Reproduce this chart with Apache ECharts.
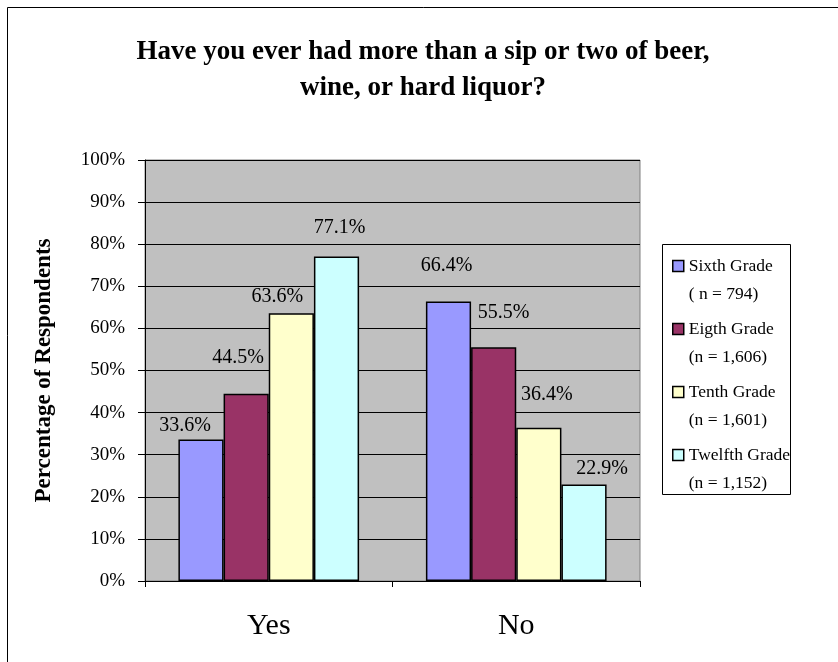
<!DOCTYPE html>
<html>
<head>
<meta charset="utf-8">
<script src="https://cdn.jsdelivr.net/npm/echarts@6/dist/echarts.min.js"></script>
<style>
html,body{margin:0;padding:0;background:#fff;}
#chart{width:838px;height:662px;}
</style>
</head>
<body>
<div id="chart"></div>
<script>
const categories = ['Yes', 'No'];
const seriesNames = ['Sixth Grade\n( n = 794)', 'Eigth Grade\n(n = 1,606)', 'Tenth Grade\n(n = 1,601)', 'Twelfth Grade\n(n = 1,152)'];
const sixthGrade = [33.6, 66.4];
const eighthGrade = [44.5, 55.5];
const tenthGrade = [63.6, 36.4];
const twelfthGrade = [77.1, 22.9];
const yTicks = [0, 10, 20, 30, 40, 50, 60, 70, 80, 90, 100];

const seriesValues = [sixthGrade, eighthGrade, tenthGrade, twelfthGrade];
const colors = ['#9999FF', '#993366', '#FFFFCC', '#CCFFFF'];
// manual label nudges (as placed in the original chart)
const labelNudges = [
  [[-16, -4], [-2, -26]],
  [[-8, -26], [10, -25]],
  [[-14, -6], [8, -23]],
  [[3, -19], [18, -6]]
];
const FONT = '"Liberation Serif", "Times New Roman", serif';

const chart = echarts.init(document.getElementById('chart'));
const series = seriesValues.map((vals, si) => ({
  name: seriesNames[si],
  type: 'bar',
  barGap: 0,
  barCategoryGap: '27%',
  itemStyle: { color: colors[si], borderColor: '#000', borderWidth: 1.5 },
  data: vals.map((v, ci) => ({
    value: v,
    label: { offset: labelNudges[si][ci] }
  })),
  label: {
    show: true,
    position: 'top',
    distance: 0,
    fontFamily: FONT,
    fontSize: 20,
    lineHeight: 20,
    color: '#000',
    formatter: p => p.value.toFixed(1) + '%'
  },
  emphasis: { disabled: true }
}));

chart.setOption({
  animation: false,
  backgroundColor: '#fff',
  title: {
    text: 'Have you ever had more than a sip or two of beer,\nwine, or hard liquor?',
    left: 418,
    textAlign: 'center',
    top: 29,
    textStyle: { fontFamily: FONT, fontSize: 27, fontWeight: 'bold', lineHeight: 36, color: '#000' }
  },
  legend: {
    orient: 'vertical',
    left: 672,
    top: 224,
    padding: 0,
    itemGap: -21,
    itemWidth: 11,
    itemHeight: 11,
    icon: 'rect',
    selectedMode: false,
    itemStyle: { borderColor: '#000', borderWidth: 1.5 },
    formatter: name => {
      const parts = name.split('\n');
      return '{e| }\n{t|' + parts[0] + '}\n{t|' + parts[1] + '}';
    },
    textStyle: {
      fontFamily: FONT, fontSize: 17.5, color: '#000',
      rich: {
        e: { fontFamily: FONT, fontSize: 17.5, lineHeight: 28, height: 28 },
        t: { fontFamily: FONT, fontSize: 17.5, lineHeight: 28, height: 28, color: '#000' }
      }
    },
    data: seriesNames
  },
  grid: {
    left: 145, top: 160, right: 198, bottom: 81,
    show: true, backgroundColor: '#C0C0C0', borderColor: '#808080', borderWidth: 1
  },
  xAxis: {
    type: 'category',
    data: categories,
    axisLine: { lineStyle: { color: '#000', width: 1 } },
    axisTick: { show: true, length: 6, lineStyle: { color: '#000' } },
    axisLabel: { fontFamily: FONT, fontSize: 30, color: '#000', margin: 30 }
  },
  yAxis: {
    type: 'value',
    min: yTicks[0],
    max: yTicks[yTicks.length - 1],
    interval: yTicks[1] - yTicks[0],
    name: 'Percentage of Respondents',
    nameLocation: 'middle',
    nameGap: 89,
    nameTextStyle: { fontFamily: FONT, fontSize: 23, fontWeight: 'bold', color: '#000' },
    axisLine: { show: true, lineStyle: { color: '#000', width: 1 } },
    axisTick: { show: true, length: 7, lineStyle: { color: '#000' } },
    axisLabel: { fontFamily: FONT, fontSize: 19, color: '#000', margin: 20, formatter: v => v + '%' },
    splitLine: { show: true, lineStyle: { color: '#000', width: 1 } }
  },
  series: series,
  graphic: [
    { type: 'rect', silent: true, shape: { x: 7.5, y: 7.5, width: 840, height: 660 },
      style: { fill: 'none', stroke: '#000', lineWidth: 1 } },
    { type: 'rect', silent: true, shape: { x: 662.5, y: 244.5, width: 128, height: 250 },
      style: { fill: 'none', stroke: '#000', lineWidth: 1 } }
  ]
});
</script>
</body>
</html>
